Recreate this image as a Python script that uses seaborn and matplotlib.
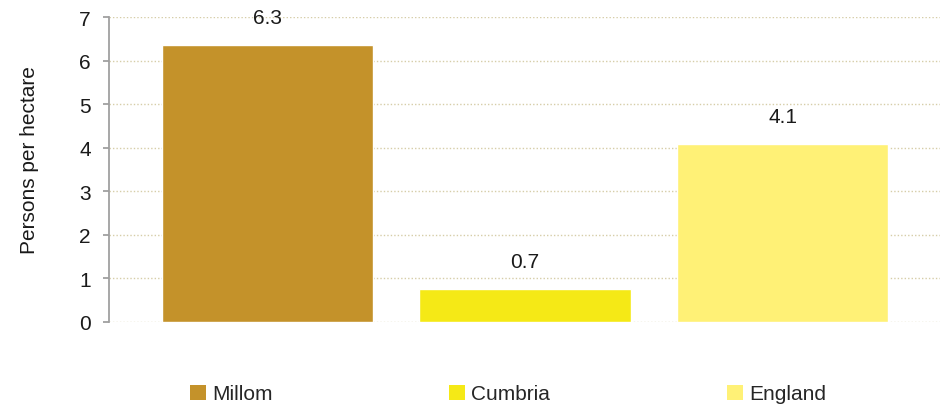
import matplotlib
matplotlib.use("Agg")
import matplotlib.pyplot as plt
import seaborn as sns
import pandas as pd
from matplotlib.patches import Patch

categories = ["Millom", "Cumbria", "England"]
values = [6.35, 0.76, 4.08]
value_labels = ["6.3", "0.7", "4.1"]
colors = ["#C4922A", "#F5E916", "#FFF176"]
yticks = [0, 1, 2, 3, 4, 5, 6, 7]

sns.set_theme(style="white")
plt.rcParams["font.family"] = ["Liberation Sans", "DejaVu Sans"]

FS = 15

df = pd.DataFrame({"area": categories, "value": values})

fig = plt.figure(figsize=(9.46, 4.06), dpi=100)
ax = fig.add_axes([109/946, 1 - 323/406, (940-109)/946, (323-18)/406])

sns.barplot(data=df, x="area", y="value", hue="area", palette=colors,
            order=categories, hue_order=categories, width=0.82,
            legend=False, ax=ax, saturation=1)

for c, lab in zip(ax.containers, value_labels):
    ax.bar_label(c, labels=[lab], padding=13, fontsize=FS, color="#1a1a1a")

ax.set_ylim(0, 7)
ax.set_xlim(-0.615, 2.61)
ax.set_yticks(yticks)
ax.set_yticklabels([str(t) for t in yticks], fontsize=FS, color="#1a1a1a")
ax.set_xticks([])
ax.set_xlabel("")
ax.set_ylabel("Persons per hectare", fontsize=FS, color="#1a1a1a")
ax.yaxis.set_label_coords(-0.084, 0.535)

ax.yaxis.grid(True, linestyle=(0, (1, 1.5)), color="#D6CDA8", linewidth=1)
ax.set_axisbelow(True)
for s in ["top", "right", "bottom"]:
    ax.spines[s].set_visible(False)
ax.spines["left"].set_color("#A0A0A0")
ax.spines["left"].set_linewidth(1.3)
ax.tick_params(axis="y", left=True, length=4, width=1.3, color="#A0A0A0", pad=9)

handles = [Patch(facecolor=c, edgecolor="none", label=l) for c, l in zip(colors, categories)]
fig.legend(handles=handles, loc="center", bbox_to_anchor=(0.537, 1 - 395/406), ncol=3,
           frameon=False, fontsize=FS, handlelength=0.75, handleheight=0.75,
           handletextpad=0.3, columnspacing=8.5)

fig.savefig("out.png", dpi=100)
